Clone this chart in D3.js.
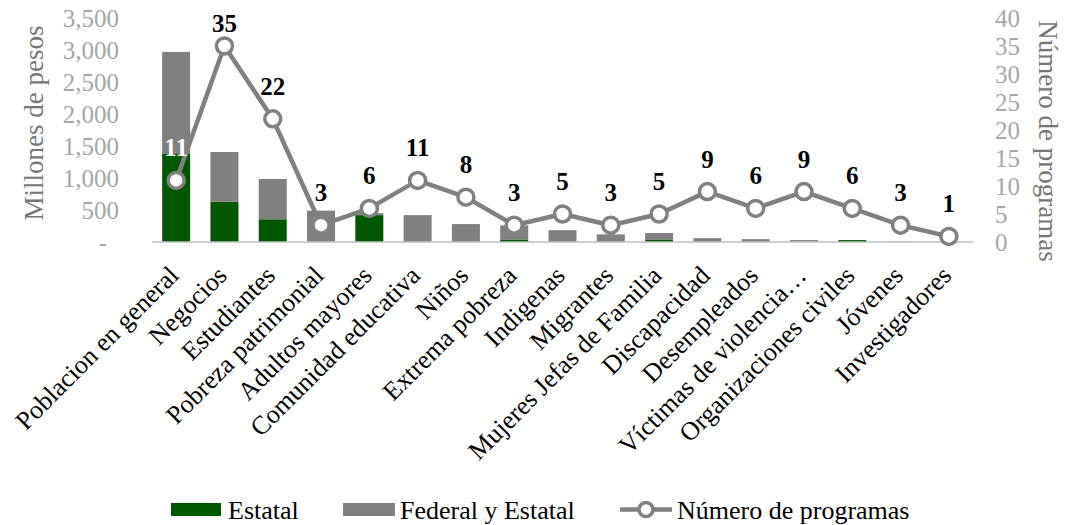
<!DOCTYPE html>
<html lang="es">
<head>
<meta charset="UTF-8" />
<title>Programas por población objetivo</title>
<script src="https://d3js.org/d3.v7.min.js"></script>
<style>
  body { margin: 0; background: #fff; font-family: "Liberation Serif", "Times New Roman", serif; }
  svg text { font-family: "Liberation Serif", "Times New Roman", serif; }
</style>
</head>
<body>
<svg width="1065" height="525"></svg>
<script>
  // datos
  const categorias = ["Poblacion en general", "Negocios", "Estudiantes", "Pobreza patrimonial",
    "Adultos mayores", "Comunidad educativa", "Niños", "Extrema pobreza", "Indigenas", "Migrantes",
    "Mujeres Jefas de Familia", "Discapacidad", "Desempleados", "Víctimas de violencia…",
    "Organizaciones civiles", "Jóvenes", "Investigadores"];
  const estatal = [1375, 630, 355, 0, 420, 0, 0, 40, 0, 0, 40, 0, 0, 5, 30, 0, 0];
  const federal = [1595, 776, 630, 490, 30, 420, 280, 220, 185, 120, 100, 60, 45, 25, 0, 5, 0];
  const programas = [11, 35, 22, 3, 6, 11, 8, 3, 5, 3, 5, 9, 6, 9, 6, 3, 1];
  const ticksIzq = [0, 500, 1000, 1500, 2000, 2500, 3000, 3500];
  const ticksDer = [0, 5, 10, 15, 20, 25, 30, 35, 40];

  const verde = "#005700", gris = "#808080";
  const svg = d3.select("svg");

  const x = d3.scaleBand().domain(categorias).range([152, 973]).paddingInner(0.42).paddingOuter(0.21);
  const yIzq = d3.scaleLinear().domain([0, 3500]).range([242, 18]);
  const yDer = d3.scaleLinear().domain([0, 40]).range([242, 18]);

  const datos = categorias.map((c, i) => ({ c, e: estatal[i], f: federal[i], n: programas[i], i }));

  // eje izquierdo
  svg.append("g").selectAll("text").data(ticksIzq).join("text")
    .attr("x", d => d === 0 ? 107 : 119)
    .attr("y", d => yIzq(d))
    .attr("dy", "0.35em")
    .attr("text-anchor", "end")
    .attr("font-size", 25)
    .attr("fill", "#a6a6a6")
    .text(d => d === 0 ? "-" : d3.format(",")(d));

  // eje derecho
  svg.append("g").selectAll("text").data(ticksDer).join("text")
    .attr("x", 995)
    .attr("y", d => yDer(d))
    .attr("dy", "0.35em")
    .attr("font-size", 25)
    .attr("fill", "#a6a6a6")
    .text(d => d);

  svg.append("text")
    .attr("transform", "translate(43,123) rotate(-90)")
    .attr("text-anchor", "middle")
    .attr("font-size", 27)
    .attr("fill", "#767676")
    .text("Millones de pesos");

  svg.append("text")
    .attr("transform", "translate(1039,141) rotate(90)")
    .attr("text-anchor", "middle")
    .attr("font-size", 27)
    .attr("fill", "#767676")
    .text("Número de programas");

  // barras apiladas
  const barras = svg.append("g");
  barras.selectAll("rect.est").data(datos).join("rect")
    .attr("class", "est")
    .attr("x", d => x(d.c))
    .attr("width", x.bandwidth())
    .attr("y", d => yIzq(d.e))
    .attr("height", d => yIzq(0) - yIzq(d.e))
    .attr("fill", verde);
  barras.selectAll("rect.fed").data(datos).join("rect")
    .attr("class", "fed")
    .attr("x", d => x(d.c))
    .attr("width", x.bandwidth())
    .attr("y", d => yIzq(d.e + d.f))
    .attr("height", d => yIzq(d.e) - yIzq(d.e + d.f))
    .attr("fill", gris);

  svg.append("line")
    .attr("x1", 152).attr("x2", 973)
    .attr("y1", yIzq(0)).attr("y2", yIzq(0))
    .attr("stroke", "#bfbfbf").attr("stroke-width", 1.5);

  // etiquetas de categorias
  svg.append("g").selectAll("text").data(datos).join("text")
    .attr("transform", d => `translate(${x(d.c) + x.bandwidth() / 2 + 4},277) rotate(-45)`)
    .attr("text-anchor", "end")
    .attr("font-size", 26)
    .attr("fill", "#000")
    .text(d => d.c);

  // linea de programas
  const cx = d => x(d.c) + x.bandwidth() / 2;
  svg.append("path")
    .datum(datos)
    .attr("fill", "none")
    .attr("stroke", gris)
    .attr("stroke-width", 4.5)
    .attr("stroke-linejoin", "round")
    .attr("d", d3.line().x(cx).y(d => yDer(d.n)));

  svg.append("g").selectAll("circle").data(datos).join("circle")
    .attr("cx", cx)
    .attr("cy", d => yDer(d.n))
    .attr("r", 8)
    .attr("fill", "#fff")
    .attr("stroke", gris)
    .attr("stroke-width", 3.5);

  svg.append("g").selectAll("text").data(datos).join("text")
    .attr("x", cx)
    .attr("y", d => Math.max(yDer(d.n) - 24, 32))
    .attr("text-anchor", "middle")
    .attr("font-size", 25)
    .attr("font-weight", "bold")
    .attr("fill", d => d.i === 0 ? "#fff" : "#000")
    .text(d => d.n);

  // leyenda
  const ley = svg.append("g").attr("font-size", 26);
  ley.append("rect").attr("x", 171).attr("y", 503).attr("width", 50).attr("height", 13).attr("fill", verde);
  ley.append("text").attr("x", 228).attr("y", 519).text("Estatal");
  ley.append("rect").attr("x", 343).attr("y", 503).attr("width", 52).attr("height", 13).attr("fill", gris);
  ley.append("text").attr("x", 400).attr("y", 519).text("Federal y Estatal");
  ley.append("line").attr("x1", 620).attr("x2", 672).attr("y1", 509.5).attr("y2", 509.5)
    .attr("stroke", gris).attr("stroke-width", 4.5);
  ley.append("circle").attr("cx", 646).attr("cy", 509.5).attr("r", 7)
    .attr("fill", "#fff").attr("stroke", gris).attr("stroke-width", 3.5);
  ley.append("text").attr("x", 677).attr("y", 519).text("Número de programas");
</script>
</body>
</html>
